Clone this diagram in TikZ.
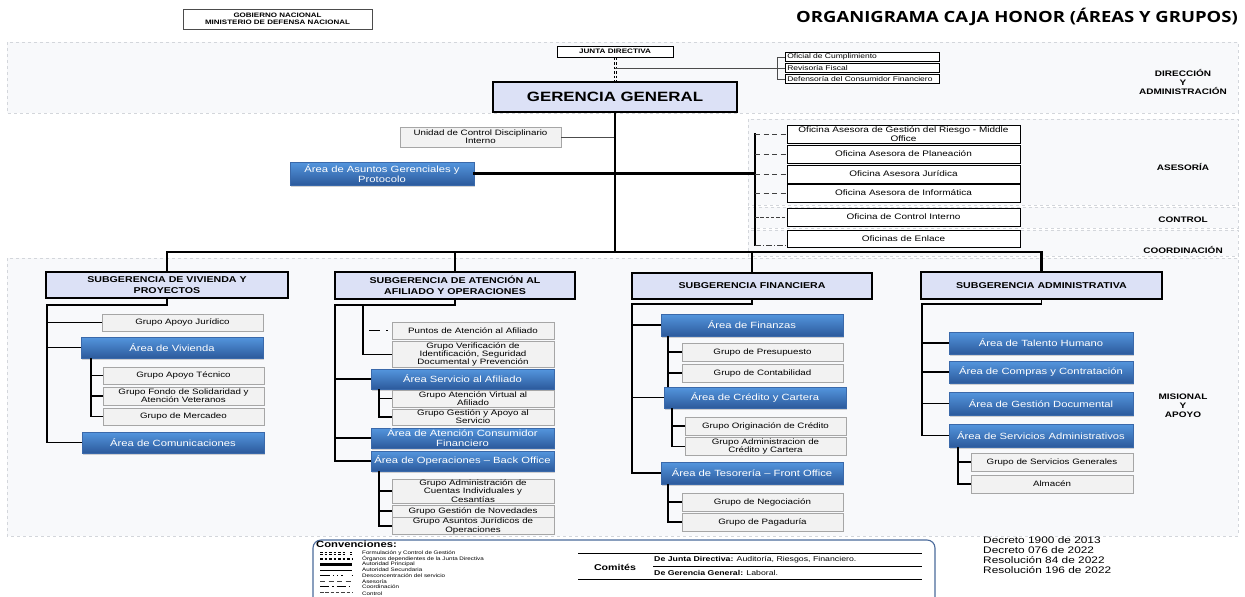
\documentclass[tikz,border=0pt]{standalone}
\usepackage{fontspec}
\setmainfont{Liberation Sans}[FakeStretch=1.25]
\newfontfamily\titlefont{Open Sans}[FakeStretch=1.2]
\usepackage{tikz}
\usetikzlibrary{calc,shadows}
\definecolor{bandfill}{HTML}{F8F9FB}
\definecolor{bandline}{HTML}{D3D6DB}
\definecolor{lavender}{HTML}{DCE1F6}
\definecolor{greyfill}{HTML}{F2F2F2}
\definecolor{greyline}{HTML}{A6A6A6}
\definecolor{bluetop}{HTML}{5496DE}
\definecolor{bluebot}{HTML}{2C5A9C}
\definecolor{blueline}{HTML}{3A69AA}
\definecolor{legline}{HTML}{4A6A9B}
\newcommand{\fsz}[2]{\fontsize{#1}{#2}\selectfont}

\begin{document}
\begin{tikzpicture}
 [x=1pt,y=-1pt,inner sep=1pt,
band/.style={draw=bandline,dashed,fill=bandfill,line width=0.6pt},
subbox/.style={draw,line width=2.4pt,fill=lavender,font=\bfseries\fsz{8.5}{10.5},align=center},
gbox/.style={draw=greyline,fill=greyfill,line width=0.7pt,font=\fsz{7.8}{8.2},align=center},
abox/.style={draw=blueline,top color=bluetop,bottom color=bluebot,text=white,font=\fsz{9}{10},align=center,
 drop shadow={opacity=0.35,shadow xshift=1pt,shadow yshift=-1.5pt}},
obox/.style={draw,fill=white,line width=0.8pt,font=\fsz{8}{8.5},align=center},
sbox/.style={draw,fill=white,line width=0.6pt,font=\fsz{6.8}{7},anchor=west,minimum width=154,minimum height=9,text width=150,align=left},
zone/.style={font=\bfseries\fsz{8}{9},align=center},
legtxt/.style={anchor=west,font=\fsz{5}{5},inner sep=0pt},
main/.style={line width=2.4pt,line cap=rect},
col/.style={line width=1.5pt},
thin/.style={line width=0.7pt,black!70},
ases/.style={line width=1pt,black!75,dash pattern=on 5pt off 3.5pt},
ctrl/.style={line width=1pt,black!75,dash pattern=on 3.5pt off 1.8pt},
coord/.style={line width=1pt,black!75,dash pattern=on 6pt off 2pt on 1pt off 2pt},
desc/.style={line width=1pt,dash pattern=on 11pt off 6pt on 1.5pt off 10pt},
organ/.style={line width=0.8pt,dash pattern=on 2.5pt off 2pt}]
\useasboundingbox (0,0) rectangle (1245,597);

% bands
\draw[band] (7,42) rectangle (1238,113);
\draw[band] (748,119) rectangle (1238,205);
\draw[band] (748,207) rectangle (1238,228);
\draw[band] (748,230) rectangle (1238,256);
\draw[band] (7,258) rectangle (1238,536);

\node (hdr) at (277.5,19) [draw=black!70,line width=0.6pt,minimum width=189,minimum height=20,align=center,font=\bfseries\fsz{6.4}{7}] {GOBIERNO NACIONAL\\MINISTERIO DE DEFENSA NACIONAL};
\node (ttl) at (1238,17) [anchor=east,inner sep=0pt,font=\titlefont\bfseries\fsz{15.4}{16}] {ORGANIGRAMA CAJA HONOR (ÁREAS Y GRUPOS)};

\node (zdir) at (1183,82) [zone] {DIRECCIÓN\\Y\\ADMINISTRACIÓN};
\node (zase) at (1183,167) [zone] {ASESORÍA};
\node (zctl) at (1183,220) [zone] {CONTROL};
\node (zcoo) at (1183,250) [zone] {COORDINACIÓN};
\node (zmis) at (1183,406) [zone] {MISIONAL\\Y\\APOYO};

% direccion
\node (junta) at (615,51.5) [draw,line width=1pt,fill=white,minimum width=116,minimum height=11,font=\bfseries\fsz{6.5}{7}] {JUNTA DIRECTIVA};
\node (of1) at (785,57) [sbox] {Oficial de Cumplimiento};
\node (of2) at (785,68) [sbox] {Revisoría Fiscal};
\node (of3) at (785,79) [sbox] {Defensoría del Consumidor Financiero};
\node (ger) at (615,97) [draw,line width=2.6pt,fill=lavender,minimum width=244,minimum height=30,font=\bfseries\fsz{13.5}{14}] {GERENCIA GENERAL};

\node (ucd) at (480.5,137) [gbox,minimum width=161,minimum height=20] {Unidad de Control Disciplinario\\Interno};
\node (aag) at (382,173.5) [abox,minimum width=184,minimum height=23] {Área de Asuntos Gerenciales y\\Protocolo};

% asesoria, control, coordinacion
\node (ofr) at (903.5,134) [obox,minimum width=233,minimum height=18] {Oficina Asesora de Gestión del Riesgo - Middle\\Office};
\node (ofp) at (903.5,154) [obox,minimum width=233,minimum height=18] {Oficina Asesora de Planeación};
\node (ofj) at (903.5,174) [obox,minimum width=233,minimum height=18] {Oficina Asesora Jurídica};
\node (ofi) at (903.5,193) [obox,minimum width=233,minimum height=18] {Oficina Asesora de Informática};
\node (ofc) at (903.5,217) [obox,minimum width=233,minimum height=18] {Oficina de Control Interno};
\node (ofe) at (903.5,238.5) [obox,minimum width=233,minimum height=17] {Oficinas de Enlace};

% subgerencias
\node (s1) at (167,285) [subbox,minimum width=242,minimum height=26] {SUBGERENCIA DE VIVIENDA Y\\PROYECTOS};
\node (s2) at (455,285.5) [subbox,minimum width=240,minimum height=27] {SUBGERENCIA DE ATENCIÓN AL\\AFILIADO Y OPERACIONES};
\node (s3) at (752,286) [subbox,minimum width=240,minimum height=26] {SUBGERENCIA FINANCIERA};
\node (s4) at (1041.5,285.5) [subbox,minimum width=241,minimum height=27] {SUBGERENCIA ADMINISTRATIVA};

% vivienda
\node (gaj) at (182.5,322.5) [gbox,minimum width=161,minimum height=17] {Grupo Apoyo Jurídico};
\node (avi) at (172,347.5) [abox,minimum width=182,minimum height=21] {Área de Vivienda};
\node (gat) at (183.5,375.5) [gbox,minimum width=161,minimum height=17] {Grupo Apoyo Técnico};
\node (gfs) at (183.5,396) [gbox,minimum width=161,minimum height=18] {Grupo Fondo de Solidaridad y\\Atención Veteranos};
\node (gme) at (183.5,416.5) [gbox,minimum width=161,minimum height=17] {Grupo de Mercadeo};
\node (aco) at (173,442.5) [abox,minimum width=182,minimum height=21] {Área de Comunicaciones};

% atencion al afiliado
\node (ppa) at (473,330.5) [gbox,minimum width=162,minimum height=17] {Puntos de Atención al Afiliado};
\node (gvi) at (473,354.5) [gbox,minimum width=162,minimum height=25] {Grupo Verificación de\\Identificación, Seguridad\\Documental y Prevención};
\node (asa) at (462.5,379) [abox,minimum width=183,minimum height=20] {Área Servicio al Afiliado};
\node (gav) at (473,398.5) [gbox,minimum width=162,minimum height=17] {Grupo Atención Virtual al\\Afiliado};
\node (gga) at (473,417) [gbox,minimum width=162,minimum height=16] {Grupo Gestión y Apoyo al\\Servicio};
\node (acf) at (462.5,438) [abox,minimum width=183,minimum height=20] {Área de Atención Consumidor\\Financiero};
\node (aop) at (462.5,461) [abox,minimum width=183,minimum height=20] {Área de Operaciones -- Back Office};
\node (gac) at (473,491) [gbox,minimum width=162,minimum height=24] {Grupo Administración de\\Cuentas Individuales y\\Cesantías};
\node (ggn) at (473,511) [gbox,minimum width=162,minimum height=12] {Grupo Gestión de Novedades};
\node (gjo) at (473,526) [gbox,minimum width=162,minimum height=16] {Grupo Asuntos Jurídicos de\\Operaciones};

% financiera
\node (afi) at (752,325) [abox,minimum width=182,minimum height=22] {Área de Finanzas};
\node (gpr) at (762.5,352) [gbox,minimum width=161,minimum height=18] {Grupo de Presupuesto};
\node (gco) at (762.5,373) [gbox,minimum width=161,minimum height=18] {Grupo de Contabilidad};
\node (acc) at (755,397.5) [abox,minimum width=182,minimum height=21] {Área de Crédito y Cartera};
\node (gor) at (765.5,426) [gbox,minimum width=161,minimum height=18] {Grupo Originación de Crédito};
\node (gad) at (765.5,446.5) [gbox,minimum width=161,minimum height=17] {Grupo Administracion de\\Crédito y Cartera};
\node (ate) at (752,473) [abox,minimum width=182,minimum height=22] {Área de Tesorería -- Front Office};
\node (gne) at (762.5,502) [gbox,minimum width=161,minimum height=18] {Grupo de Negociación};
\node (gpa) at (762.5,522) [gbox,minimum width=161,minimum height=18] {Grupo de Pagaduría};

% administrativa
\node (ath) at (1041,343) [abox,minimum width=184,minimum height=22] {Área de Talento Humano};
\node (acp) at (1041,372) [abox,minimum width=184,minimum height=22] {Área de Compras y Contratación};
\node (agd) at (1041,403.5) [abox,minimum width=184,minimum height=23] {Área de Gestión Documental};
\node (asd) at (1041,435.5) [abox,minimum width=184,minimum height=23] {Área de Servicios Administrativos};
\node (gsg) at (1052,462) [gbox,minimum width=162,minimum height=18] {Grupo de Servicios Generales};
\node (alm) at (1052,484) [gbox,minimum width=162,minimum height=18] {Almacén};

% connectors, top
\draw[organ] ([xshift=-1.1pt]junta.south) -- ([xshift=-1.1pt]ger.north);
\draw[organ] ([xshift=1.1pt]junta.south) -- ([xshift=1.1pt]ger.north);
\draw[thin] (junta.south |- of2.west) -- (of2.west);
\draw[thin] (of1.west) -- ++(-8,0) |- (of3.west);
\draw[thin] (ucd.east) -- (ucd.east -| ger.south);
\coordinate (bt) at (755,134);
\coordinate (bb) at (755,245);
\draw[main] (bt) -- (bb);
\draw[main] (aag.east) -- (aag.east -| bt);
\draw[ases] (bt) -- (ofr.west);
\draw[ases] (bt |- ofp.west) -- (ofp.west);
\draw[ases] (bt |- ofj.west) -- (ofj.west);
\draw[ases] (bt |- ofi.west) -- (ofi.west);
\draw[ctrl] (bt |- ofc.west) -- (ofc.west);
\draw[coord] (bb) -- (bb -| ofe.west);

\coordinate (bl) at (167,252);
\coordinate (br) at (1041.5,252);
\draw[main] (ger.south) -- (ger.south |- bl);
\draw[main] (bl) -- (br);
\draw[main] (bl) -- (s1.north);
\draw[main] (s2.north |- bl) -- (s2.north);
\draw[main] (s3.north |- bl) -- (s3.north);
\draw[main] (br) -- (s4.north);

% vivienda
\coordinate (c1) at (47,305);
\draw[col] (s1.south) |- (c1) |- (aco.west);
\draw[col] (c1 |- gaj.west) -- (gaj.west);
\draw[col] (c1 |- avi.west) -- (avi.west);
\coordinate (v1) at (91,358);
\draw[col] (v1) |- (gme.west);
\draw[col] (v1 |- gat.west) -- (gat.west);
\draw[col] (v1 |- gfs.west) -- (gfs.west);

% atencion
\coordinate (c2) at (335,305);
\draw[col] (s2.south) |- (c2) |- (aop.west);
\draw[col] (c2 |- asa.west) -- (asa.west);
\draw[col] (c2 |- acf.west) -- (acf.west);
\coordinate (c2b) at (363,305);
\draw[col] (c2b) |- (gvi.west);
\coordinate (d2) at (369,330.5);
\draw[desc] (d2) -- (ppa.west);
\coordinate (v2) at (379,389);
\draw[col] (v2) |- (gga.west);
\draw[col] (v2 |- gav.west) -- (gav.west);
\coordinate (v3) at (379,471);
\draw[col] (v3) |- (gjo.west);
\draw[col] (v3 |- gac.west) -- (gac.west);
\draw[col] (v3 |- ggn.west) -- (ggn.west);

% financiera
\coordinate (c3) at (632,304);
\draw[col] (s3.south) |- (c3) |- (ate.west);
\draw[col] (c3 |- afi.west) -- (afi.west);
\draw[col] (c3 |- acc.west) -- (acc.west);
\coordinate (v4) at (668,336);
\draw[col] (v4) -- (v4 |- acc.north);
\draw[col] (v4 |- gpr.west) -- (gpr.west);
\draw[col] (v4 |- gco.west) -- (gco.west);
\coordinate (v5) at (672,408);
\draw[col] (v5) |- (gad.west);
\draw[col] (v5 |- gor.west) -- (gor.west);
\coordinate (v6) at (668,484);
\draw[col] (v6) |- (gpa.west);
\draw[col] (v6 |- gne.west) -- (gne.west);

% administrativa
\coordinate (c4) at (922,304);
\draw[col] (s4.south) |- (c4) |- (asd.west);
\draw[col] (c4 |- ath.west) -- (ath.west);
\draw[col] (c4 |- acp.west) -- (acp.west);
\draw[col] (c4 |- agd.west) -- (agd.west);
\coordinate (v7) at (958,447);
\draw[col] (v7) |- (alm.west);
\draw[col] (v7 |- gsg.west) -- (gsg.west);

% convenciones
\draw[legline,line width=1.1pt,rounded corners=8pt,fill=white] (313,540) rectangle (935,615);
\node (conv) at (315,544) [anchor=west,font=\bfseries\fsz{9}{9}] {Convenciones:};
\draw[organ,line width=0.6pt] (320,552.2) -- (345,552.2) (320,553.8) -- (345,553.8);
\draw[line width=0.6pt] (350,552.2) -- (351.5,552.2) (350,553.8) -- (351.5,553.8);
\draw[organ,line width=0.6pt] (320,557.9) -- (352,557.9) (320,559.5) -- (352,559.5);
\draw[line width=2.2pt] (320,564.4) -- (352,564.4);
\draw[line width=1pt] (320,570) -- (352,570);
\draw[line width=0.9pt,dash pattern=on 10pt off 3pt on 1.2pt off 3pt on 1.2pt off 3pt on 1.2pt off 9pt] (320,575.6) -- (352,575.6);
\draw[ases] (320,581.2) -- (352,581.2);
\draw[line width=0.9pt,dash pattern=on 9pt off 3pt on 1.5pt off 3pt] (320,586.8) -- (352,586.8);
\draw[ctrl] (320,592.6) -- (352,592.6);
\node (lg1) at (362,553) [legtxt] {Formulación y Control de Gestión};
\node (lg2) at (362,558.7) [legtxt] {Órganos dependientes de la Junta Directiva};
\node (lg3) at (362,564.4) [legtxt] {Autoridad Principal};
\node (lg4) at (362,570) [legtxt] {Autoridad Secundaria};
\node (lg5) at (362,575.6) [legtxt] {Desconcentración del servicio};
\node (lg6) at (362,581.2) [legtxt] {Asesoría};
\node (lg7) at (362,586.8) [legtxt] {Coordinación};
\node (lg8) at (362,593.4) [legtxt] {Control};

\draw[line width=0.9pt] (578,553.5) -- (922,553.5);
\draw[line width=0.7pt] (653,566) -- (922,566);
\draw[line width=0.9pt] (578,579) -- (922,579);
\node (com) at (615,567) [font=\bfseries\fsz{8.5}{9}] {Comités};
\node (cjd) at (653,560) [anchor=west,font=\fsz{7}{7}] {\textbf{De Junta Directiva:} Auditoría, Riesgos, Financiero.};
\node (cgg) at (653,572.5) [anchor=west,font=\fsz{7}{7}] {\textbf{De Gerencia General:} Laboral.};

\node (dec) at (983,536) [anchor=north west,inner sep=0pt,align=left,font=\fsz{9.5}{10.3}] {Decreto 1900 de 2013\\Decreto 076 de 2022\\Resolución 84 de 2022\\Resolución 196 de 2022};
\end{tikzpicture}
\end{document}
